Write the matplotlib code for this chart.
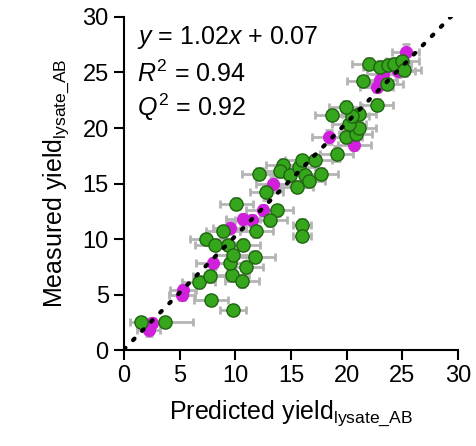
import numpy as np
import matplotlib.pyplot as plt

plt.rcParams['font.family'] = ['Liberation Sans', 'DejaVu Sans']
plt.rcParams['mathtext.fontset'] = 'custom'
plt.rcParams['mathtext.rm'] = 'Liberation Sans'
plt.rcParams['mathtext.it'] = 'Liberation Sans:italic'

# green points: predicted, measured, x error, y error
green_x = [1.5, 3.7, 7.8, 9.8, 6.7, 7.7, 9.7, 10.6, 11.0, 11.8, 9.5, 7.4, 8.2, 9.3, 9.8,
           10.7, 8.9, 11.9, 10.1, 12.1, 12.8, 13.7, 13.1, 16.0, 16.0, 14.3, 14.0, 14.9,
           15.7, 16.3, 16.6, 15.5, 17.7, 17.2, 16.0, 19.1, 19.9, 20.8, 21.1, 20.2, 21.1,
           18.7, 20.5, 19.9, 22.7, 21.5, 23.6, 22.0, 23.0, 23.7, 24.3, 25.0, 25.2]
green_y = [2.5, 2.5, 4.5, 3.6, 6.1, 6.7, 6.8, 6.2, 7.5, 8.4, 7.8, 10.0, 9.5, 9.5, 8.6,
           9.5, 10.7, 10.7, 13.2, 15.9, 14.2, 12.6, 11.7, 11.3, 10.3, 16.7, 16.1, 15.8,
           16.5, 15.8, 15.2, 14.7, 15.9, 17.1, 17.1, 17.7, 19.2, 19.5, 20.0, 20.4, 21.3,
           21.2, 21.1, 21.9, 22.1, 24.2, 24.0, 25.8, 25.5, 25.7, 25.8, 26.0, 25.2]
green_xerr = [1.0, 2.5, 1.5, 1.2, 1.5, 1.5, 1.5, 1.5, 1.5, 1.8, 1.5, 1.5, 1.8, 1.5, 1.5,
              1.5, 1.5, 1.5, 1.5, 1.5, 1.5, 1.5, 1.5, 0.8, 0.8, 1.5, 1.5, 1.5,
              1.5, 1.5, 1.5, 1.5, 1.5, 1.5, 1.5, 1.5, 1.5, 1.5, 1.5, 1.5, 1.5,
              1.5, 1.5, 1.5, 1.5, 1.5, 1.5, 1.5, 1.5, 1.5, 1.5, 1.5, 1.5]
green_yerr = [0.4, 0.4, 0.4, 0.4, 0.5, 0.5, 0.5, 0.5, 0.5, 0.5, 0.5, 0.5, 0.5, 0.5, 0.5,
              0.5, 0.5, 0.5, 0.5, 0.5, 0.7, 0.5, 0.5, 0.5, 0.5, 0.5, 0.5, 0.5,
              0.5, 0.5, 0.5, 0.5, 0.5, 0.5, 0.5, 0.7, 0.5, 0.5, 0.5, 0.5, 0.5,
              0.5, 0.5, 0.5, 0.5, 0.5, 0.5, 0.5, 0.5, 0.5, 0.5, 0.5, 0.5]

# magenta points
mag_x = [2.5, 2.2, 5.2, 5.3, 8.0, 9.5, 10.7, 11.5, 12.5, 13.4, 18.4, 20.7, 22.7, 23.0, 23.3, 24.6, 25.3]
mag_y = [2.4, 1.8, 5.0, 5.4, 7.8, 11.0, 11.8, 11.7, 12.6, 15.0, 19.2, 18.5, 23.7, 24.3, 24.9, 25.1, 26.8]
mag_xerr = [1.0, 1.0, 1.2, 1.2, 1.5, 1.5, 1.5, 1.5, 1.5, 1.5, 1.5, 1.5, 1.5, 1.5, 1.5, 1.5, 1.2]
mag_yerr = [0.5, 0.5, 0.5, 0.5, 0.5, 0.5, 0.5, 0.5, 0.5, 0.6, 0.6, 0.5, 0.5, 0.5, 0.5, 0.5, 0.8]

slope = 1.02
intercept = 0.07

fig = plt.figure(figsize=(4.77, 4.46), dpi=100)
ax = fig.add_axes([0.26, 0.215, 0.70, 0.747])

grey = '#b4b4b4'
ax.errorbar(green_x, green_y, xerr=green_xerr, yerr=green_yerr, fmt='none',
            ecolor=grey, elinewidth=2, capsize=3, capthick=2, zorder=1)
ax.errorbar(mag_x, mag_y, xerr=mag_xerr, yerr=mag_yerr, fmt='none',
            ecolor=grey, elinewidth=2, capsize=3, capthick=2, zorder=1)

ax.plot(mag_x, mag_y, 'o', color='#d020dc', markersize=9.5, markeredgewidth=0, zorder=2)
ax.plot(green_x, green_y, 'o', color='#36a61c', markeredgecolor='#1f6410',
        markersize=9.5, markeredgewidth=1, zorder=3)

# fit line
xl = np.array([0, 30])
ax.plot(xl, slope * xl + intercept, color='black', linewidth=3,
        linestyle=(0, (0.5, 2.6)), dash_capstyle='round', zorder=4)

ax.set_xlim(0, 30)
ax.set_ylim(0, 30)
ax.set_xticks([0, 5, 10, 15, 20, 25, 30])
ax.set_yticks([0, 5, 10, 15, 20, 25, 30])
ax.spines['top'].set_visible(False)
ax.spines['right'].set_visible(False)
ax.spines['left'].set_linewidth(1.5)
ax.spines['bottom'].set_linewidth(1.5)
ax.tick_params(direction='out', length=7, width=1.5, labelsize=17, pad=4)

ax.set_xlabel('Predicted yield$_\\mathregular{lysate\\_AB}$', fontsize=18, labelpad=8)
ax.set_ylabel('Measured yield$_\\mathregular{lysate\\_AB}$', fontsize=18, labelpad=8)

ax.text(0.04, 0.98, '$y$ = 1.02$x$ + 0.07', transform=ax.transAxes, fontsize=18, va='top')
ax.text(0.04, 0.87, '$R^2$ = 0.94', transform=ax.transAxes, fontsize=18, va='top')
ax.text(0.04, 0.777, '$Q^2$ = 0.92', transform=ax.transAxes, fontsize=18, va='top')

plt.savefig('out.png', dpi=100)
